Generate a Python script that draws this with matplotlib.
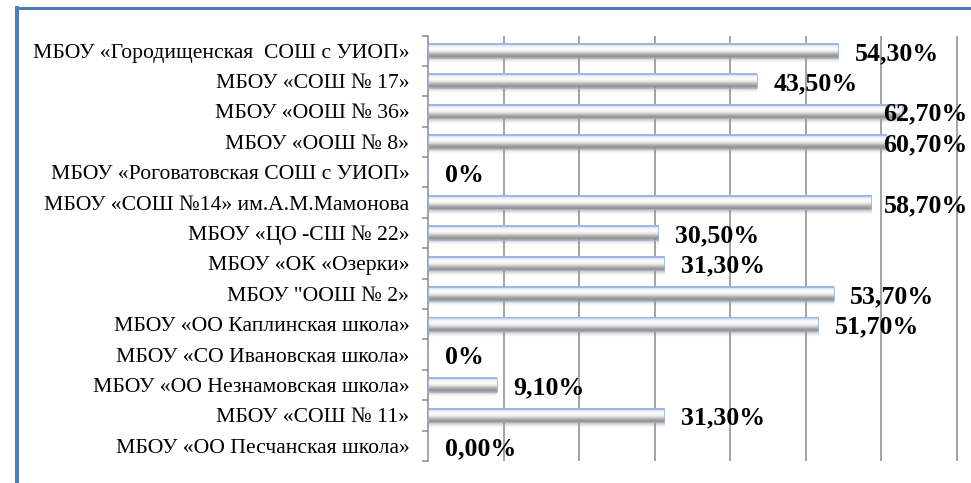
import numpy as np
import matplotlib
matplotlib.use("Agg")
import matplotlib.pyplot as plt
from matplotlib.colors import to_rgba
from matplotlib.lines import Line2D

categories = [
    "МБОУ «Городищенская  СОШ с УИОП»",
    "МБОУ «СОШ № 17»",
    "МБОУ «ООШ № 36»",
    "МБОУ «ООШ № 8»",
    "МБОУ «Роговатовская СОШ с УИОП»",
    "МБОУ «СОШ №14» им.А.М.Мамонова",
    "МБОУ «ЦО -СШ № 22»",
    "МБОУ «ОК «Озерки»",
    "МБОУ \"ООШ № 2»",
    "МБОУ «ОО Каплинская школа»",
    "МБОУ «СО Ивановская школа»",
    "МБОУ «ОО Незнамовская школа»",
    "МБОУ «СОШ № 11»",
    "МБОУ «ОО Песчанская школа»",
]
values = [54.3, 43.5, 62.7, 60.7, 0, 58.7, 30.5, 31.3, 53.7, 51.7, 0, 9.1, 31.3, 0.0]
value_labels = ["54,30%", "43,50%", "62,70%", "60,70%", "0%", "58,70%", "30,50%",
                "31,30%", "53,70%", "51,70%", "0%", "9,10%", "31,30%", "0,00%"]
grid_ticks = [10, 20, 30, 40, 50, 60, 70]

W, H = 971, 483
fig = plt.figure(figsize=(W / 100, H / 100), dpi=100)
ax = fig.add_axes([428 / W, 1 - 461 / H, 1 - 428 / W, (461 - 35.5) / H])

n = len(categories)
y = np.arange(n)
bar_h = 0.45
shadow = 0.18

# vertical gradient for the cylinder-like bars (+ soft shadow below)
stops = [(0.00, "#8eaadf"), (0.10, "#c3d5f1"), (0.22, "#eef3fb"), (0.42, "#ffffff"),
         (0.60, "#e2e2e2"), (0.80, "#a6a6a6"), (1.00, "#8c8c8c")]
rows_bar = 60
rows_sh = int(rows_bar * shadow / bar_h)
grad = np.zeros((rows_bar + rows_sh, 2, 4))
pos = [s[0] for s in stops]
cols = np.array([to_rgba(s[1]) for s in stops])
t = np.linspace(0, 1, rows_bar)
for c in range(4):
    grad[:rows_bar, :, c] = np.interp(t, pos, cols[:, c])[:, None]
ts = np.linspace(0, 1, rows_sh)
grad[rows_bar:, :, :3] = 0.55
grad[rows_bar:, :, 3] = (0.6 * (1 - ts) ** 1.6)[:, None]

for yi, v in zip(y, values):
    if v > 0:
        ax.imshow(grad, extent=(0, v, yi + bar_h / 2 + shadow, yi - bar_h / 2),
                  origin="upper", aspect="auto", interpolation="bilinear", zorder=2)
ax.barh(y, values, height=bar_h, facecolor="none", edgecolor="#9fb4da",
        linewidth=0.6, zorder=3)

# labels that would run past the plot edge are pulled back inside
cap = 60.3
for yi, v, lab in zip(y, values, value_labels):
    x = min(v + 2.2, cap)
    ax.annotate(lab, xy=(x, yi), xytext=(0, -2), textcoords="offset points",
                ha="left", va="center", fontsize=18.6, fontweight="bold",
                family="Liberation Serif", color="black", zorder=4,
                annotation_clip=False)

ax.set_xlim(0, 71.9)
ax.set_ylim(n - 0.5, -0.5)
ax.set_xticks(grid_ticks)
ax.tick_params(axis="x", length=0, labelbottom=False)
ax.grid(axis="x", color="#8a8a8a", linewidth=1.1, zorder=1)
ax.set_axisbelow(True)

ax.set_yticks(y)
ax.set_yticklabels(categories, family="Liberation Serif", fontsize=15.6)
ax.set_yticks(np.arange(n + 1) - 0.5, minor=True)
ax.tick_params(axis="y", which="major", length=0, pad=13.5)
ax.tick_params(axis="y", which="minor", length=4.5, width=1.1, color="#8a8a8a", direction="out")

for s in ["top", "right", "bottom"]:
    ax.spines[s].set_visible(False)
ax.spines["left"].set_color("#8a8a8a")
ax.spines["left"].set_linewidth(1.1)

# page frame (blue border) around the chart
fig.add_artist(Line2D([17 / W, 17 / W], [0, 1 - 6 / H], transform=fig.transFigure,
                      color="#4a7ebb", linewidth=2.9, solid_capstyle="butt"))
fig.add_artist(Line2D([15 / W, 1], [1 - 7.5 / H, 1 - 7.5 / H], transform=fig.transFigure,
                      color="#4a7ebb", linewidth=2.2, solid_capstyle="butt"))

fig.savefig("out.png", dpi=100)
